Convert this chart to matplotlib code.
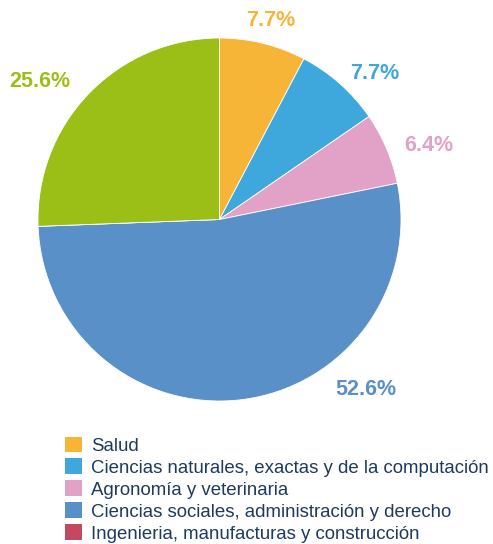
import matplotlib.pyplot as plt
from matplotlib.patches import Patch

plt.rcParams['font.family'] = ['Liberation Sans', 'DejaVu Sans']

# data
categorias = ['Salud',
              'Ciencias naturales, exactas y de la computación',
              'Agronomía y veterinaria',
              'Ciencias sociales, administración y derecho',
              'Ingenieria, manufacturas y construcción',
              'Humanidades y educación']
porcentajes = [7.7, 7.7, 6.4, 52.6, 0.0, 25.6]
colores = ['#f7b538', '#3ea8dc', '#e2a1c7', '#5a90c8', '#c4485f', '#9bbf17']
n_leyenda = 5  # only the first five entries fit in the picture

# label placement (in units of the pie radius)
pos_etiquetas = [(0.284, 1.099), (0.857, 0.807), (1.154, 0.405),
                 (0.807, -0.934), None, (-0.989, 0.758)]

W, H = 493, 544
fig = plt.figure(figsize=(W / 100, H / 100), dpi=100)
fig.patch.set_facecolor('white')

cx, cy, r = 219.5, 219.5, 181.5
ax = fig.add_axes([(cx - r) / W, (H - cy - r) / H, 2 * r / W, 2 * r / H])

wedges, _ = ax.pie(porcentajes, colors=colores, startangle=90, counterclock=False,
                   radius=1, wedgeprops=dict(edgecolor='white', linewidth=0.6))
ax.set_xlim(-1, 1)
ax.set_ylim(-1, 1)
ax.set_aspect('equal')
ax.axis('off')

for v, c, p in zip(porcentajes, colores, pos_etiquetas):
    if p is None or v == 0:
        continue
    ax.text(p[0], p[1], f'{v:.1f}%', color=c, fontsize=15.5, fontweight='bold',
            ha='center', va='center')

handles = [Patch(facecolor=c, edgecolor='none') for c in colores[:n_leyenda]]
leg = fig.legend(handles, categorias[:n_leyenda], loc='upper left',
                 bbox_to_anchor=(65 / W, 1 - 436.5 / H), frameon=False,
                 fontsize=13.4, handlelength=0.92, handleheight=0.92,
                 handletextpad=0.5, labelspacing=0.2, borderaxespad=0,
                 borderpad=0)
for t in leg.get_texts():
    t.set_color('#1f3a5f')

fig.savefig('out.png', dpi=100, facecolor='white')
